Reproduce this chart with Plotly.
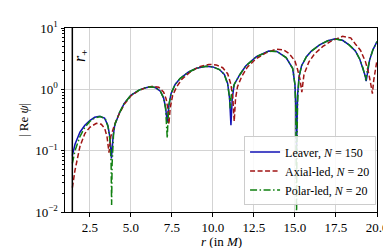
import plotly.graph_objects as go

# ---------------- data ----------------
r_plus = 1.436

r_leaver = [1.44, 1.6, 1.9, 2.2, 2.5, 2.8, 3.1, 3.4, 3.6, 3.72, 3.82, 3.92, 4.02, 4.3, 4.6,
            5.0, 5.5, 5.85, 6.2, 6.5, 6.8, 7.0, 7.12, 7.22, 7.32, 7.45, 7.7, 8.0, 8.5, 9.0,
            9.6, 10.0, 10.4, 10.7, 10.9, 11.02, 11.1, 11.18, 11.3, 11.64, 12.0, 12.65, 13.4,
            13.9, 14.46, 14.86, 15.0, 15.05, 15.1, 15.16, 15.25, 15.4, 15.7, 16.0, 16.5,
            17.0, 17.45, 17.9, 18.3, 18.68, 18.95, 19.15, 19.27, 19.34, 19.42, 19.55, 19.75, 20.0]
v_leaver = [0.083, 0.127, 0.2, 0.26, 0.31, 0.35, 0.365, 0.34, 0.26, 0.17, 0.075, 0.17, 0.26, 0.41, 0.59,
            0.8, 0.97, 1.05, 1.1, 1.07, 0.93, 0.72, 0.5, 0.29, 0.55, 0.85, 1.2, 1.5, 1.9, 2.2,
            2.38, 2.32, 2.1, 1.75, 1.25, 0.7, 0.26, 0.7, 1.2, 1.73, 2.4, 3.4, 4.2,
            4.15, 3.3, 2.2, 1.2, 0.6, 0.1, 0.8, 1.6, 2.4, 3.4, 4.2, 5.3,
            6.2, 6.7, 6.3, 5.3, 4.24, 3.1, 2.2, 1.7, 1.36, 2.0, 3.0, 4.4, 6.0]

r_axial = [1.44, 1.6, 1.9, 2.2, 2.5, 2.9, 3.2, 3.41, 3.55, 3.67, 3.78, 3.9, 4.02, 4.3, 4.6,
           5.0, 5.5, 5.9, 6.35, 6.7, 7.0, 7.15, 7.25, 7.32, 7.4, 7.55, 7.8, 8.1, 8.6, 9.1,
           9.75, 10.2, 10.6, 10.9, 11.1, 11.22, 11.3, 11.38, 11.5, 11.75, 12.1, 12.6, 13.2,
           13.85, 14.3, 14.66, 15.0, 15.16, 15.3, 15.42, 15.55, 15.85, 16.2, 16.7, 17.2,
           17.9, 18.4, 18.68, 19.0, 19.3, 19.5, 19.65, 19.72, 19.8, 19.9, 20.0]
v_axial = [0.025, 0.048, 0.117, 0.19, 0.24, 0.28, 0.27, 0.23, 0.17, 0.093, 0.17, 0.21, 0.27, 0.4, 0.57,
           0.78, 0.96, 1.06, 1.12, 1.08, 0.9, 0.7, 0.5, 0.27, 0.5, 0.8, 1.1, 1.45, 1.9, 2.3,
           2.55, 2.5, 2.25, 1.8, 1.2, 0.7, 0.3, 0.7, 1.1, 1.6, 2.3, 3.1, 3.9,
           4.5, 4.4, 3.8, 2.9, 2.1, 1.5, 0.9, 1.74, 2.8, 3.8, 5.0, 6.1,
           7.3, 6.9, 5.5, 4.3, 2.8, 1.8, 1.1, 0.85, 1.4, 2.2, 3.0]

r_polar = [1.44, 1.6, 1.9, 2.2, 2.5, 2.8, 3.15, 3.45, 3.62, 3.74, 3.8, 3.83, 3.86, 3.95, 4.05,
           4.3, 4.6, 5.0, 5.5, 5.85, 6.2, 6.5, 6.8, 7.0, 7.12, 7.18, 7.22, 7.26, 7.32, 7.45,
           7.7, 8.0, 8.5, 9.0, 9.6, 10.0, 10.4, 10.7, 10.9, 11.0, 11.06, 11.12, 11.2, 11.3,
           11.64, 12.0, 12.65, 13.4, 13.9, 14.46, 14.86, 15.0, 15.05, 15.08, 15.1, 15.12,
           15.16, 15.25, 15.4, 15.7, 16.0, 16.5, 17.0, 17.45, 17.9, 18.3, 18.68, 18.95,
           19.15, 19.25, 19.32, 19.4, 19.55, 19.75, 20.0]
v_polar = [0.062, 0.1, 0.17, 0.24, 0.3, 0.34, 0.36, 0.33, 0.24, 0.14, 0.06, 0.013, 0.06, 0.19, 0.28,
           0.41, 0.59, 0.8, 0.97, 1.05, 1.1, 1.07, 0.93, 0.72, 0.48, 0.3, 0.16, 0.3, 0.55, 0.85,
           1.2, 1.5, 1.9, 2.2, 2.38, 2.32, 2.1, 1.75, 1.2, 0.8, 0.49, 0.8, 1.0, 1.2,
           1.73, 2.4, 3.4, 4.2, 4.15, 3.3, 2.2, 1.2, 0.5, 0.1, 0.008, 0.1,
           0.6, 1.6, 2.4, 3.4, 4.2, 5.3, 6.2, 6.6, 6.3, 5.3, 4.24, 3.1,
           2.2, 1.7, 1.4, 2.0, 3.0, 4.4, 6.0]

x_ticks = [2.5, 5.0, 7.5, 10.0, 12.5, 15.0, 17.5, 20.0]
x_ticktext = ["2.5", "5.0", "7.5", "10.0", "12.5", "15.0", "17.5", "20.0"]
y_ticks = [0.01, 0.1, 1, 10]
y_ticktext = ["10<sup>−2</sup>", "10<sup>−1</sup>", "10<sup>0</sup>", "10<sup>1</sup>"]
y_minor = [m * 10.0 ** e for e in (-2, -1, 0) for m in range(2, 10)]

labels = ["Leaver, <i>N</i> = 150", "Axial-led, <i>N</i> = 20", "Polar-led, <i>N</i> = 20"]

FONT = "Liberation Serif"

fig = go.Figure()
fig.add_trace(go.Scatter(x=r_leaver, y=v_leaver, mode="lines", name=labels[0],
                         line=dict(color="#1010b4", width=1.5)))
fig.add_trace(go.Scatter(x=r_axial, y=v_axial, mode="lines", name=labels[1],
                         line=dict(color="#a01414", width=1.5, dash="5px,2.5px")))
fig.add_trace(go.Scatter(x=r_polar, y=v_polar, mode="lines", name=labels[2],
                         line=dict(color="#108010", width=1.5, dash="7px,2.5px,1.5px,2.5px")))

fig.add_shape(type="line", xref="x", yref="paper", x0=r_plus, x1=r_plus, y0=0, y1=1,
              line=dict(color="black", width=1.5))

fig.add_annotation(x=r_plus, xref="x", y=0.85, yref="paper", xshift=8,
                   xanchor="center", yanchor="middle",
                   text="<i>r</i><sub>+</sub>", textangle=-90, showarrow=False,
                   font=dict(family=FONT, size=16, color="black"))
fig.add_annotation(x=0, xref="paper", y=0.5, yref="paper", xshift=-42,
                   xanchor="center", yanchor="middle",
                   text="| Re <i>ψ</i>|", textangle=-90, showarrow=False,
                   font=dict(family=FONT, size=13, color="black"))
fig.add_annotation(x=0.5, xref="paper", y=0, yref="paper", yshift=-29,
                   xanchor="center", yanchor="middle",
                   text="<i>r</i> (in <i>M</i>)", showarrow=False,
                   font=dict(family=FONT, size=13, color="black"))

fig.update_layout(
    width=391, height=248,
    margin=dict(l=57, r=19, t=11, b=44),
    paper_bgcolor="white", plot_bgcolor="white",
    font=dict(family=FONT, size=13, color="black"),
    showlegend=True,
    legend=dict(x=0.997, xanchor="right", y=0.036, yanchor="bottom",
                bgcolor="rgba(255,255,255,0.85)", bordercolor="#cccccc", borderwidth=1,
                font=dict(family=FONT, size=12), tracegroupgap=0, itemwidth=30),
)
fig.update_xaxes(range=[0.99, 20.0], tickvals=x_ticks, ticktext=x_ticktext,
                 ticks="outside", ticklen=3.5, tickcolor="black",
                 tickfont=dict(family=FONT, size=13),
                 showgrid=True, gridcolor="#d3d3d3", gridwidth=1,
                 showline=True, linecolor="black", linewidth=1, mirror=True, zeroline=False)
fig.update_yaxes(type="log", range=[-2, 1], tickvals=y_ticks, ticktext=y_ticktext,
                 ticks="outside", ticklen=3.5, tickcolor="black",
                 tickfont=dict(family=FONT, size=13),
                 minor=dict(tickvals=y_minor, ticks="outside", ticklen=2, tickcolor="black",
                            showgrid=False),
                 showgrid=True, gridcolor="#d3d3d3", gridwidth=1,
                 showline=True, linecolor="black", linewidth=1, mirror=True, zeroline=False)

fig.write_html("out.html")
